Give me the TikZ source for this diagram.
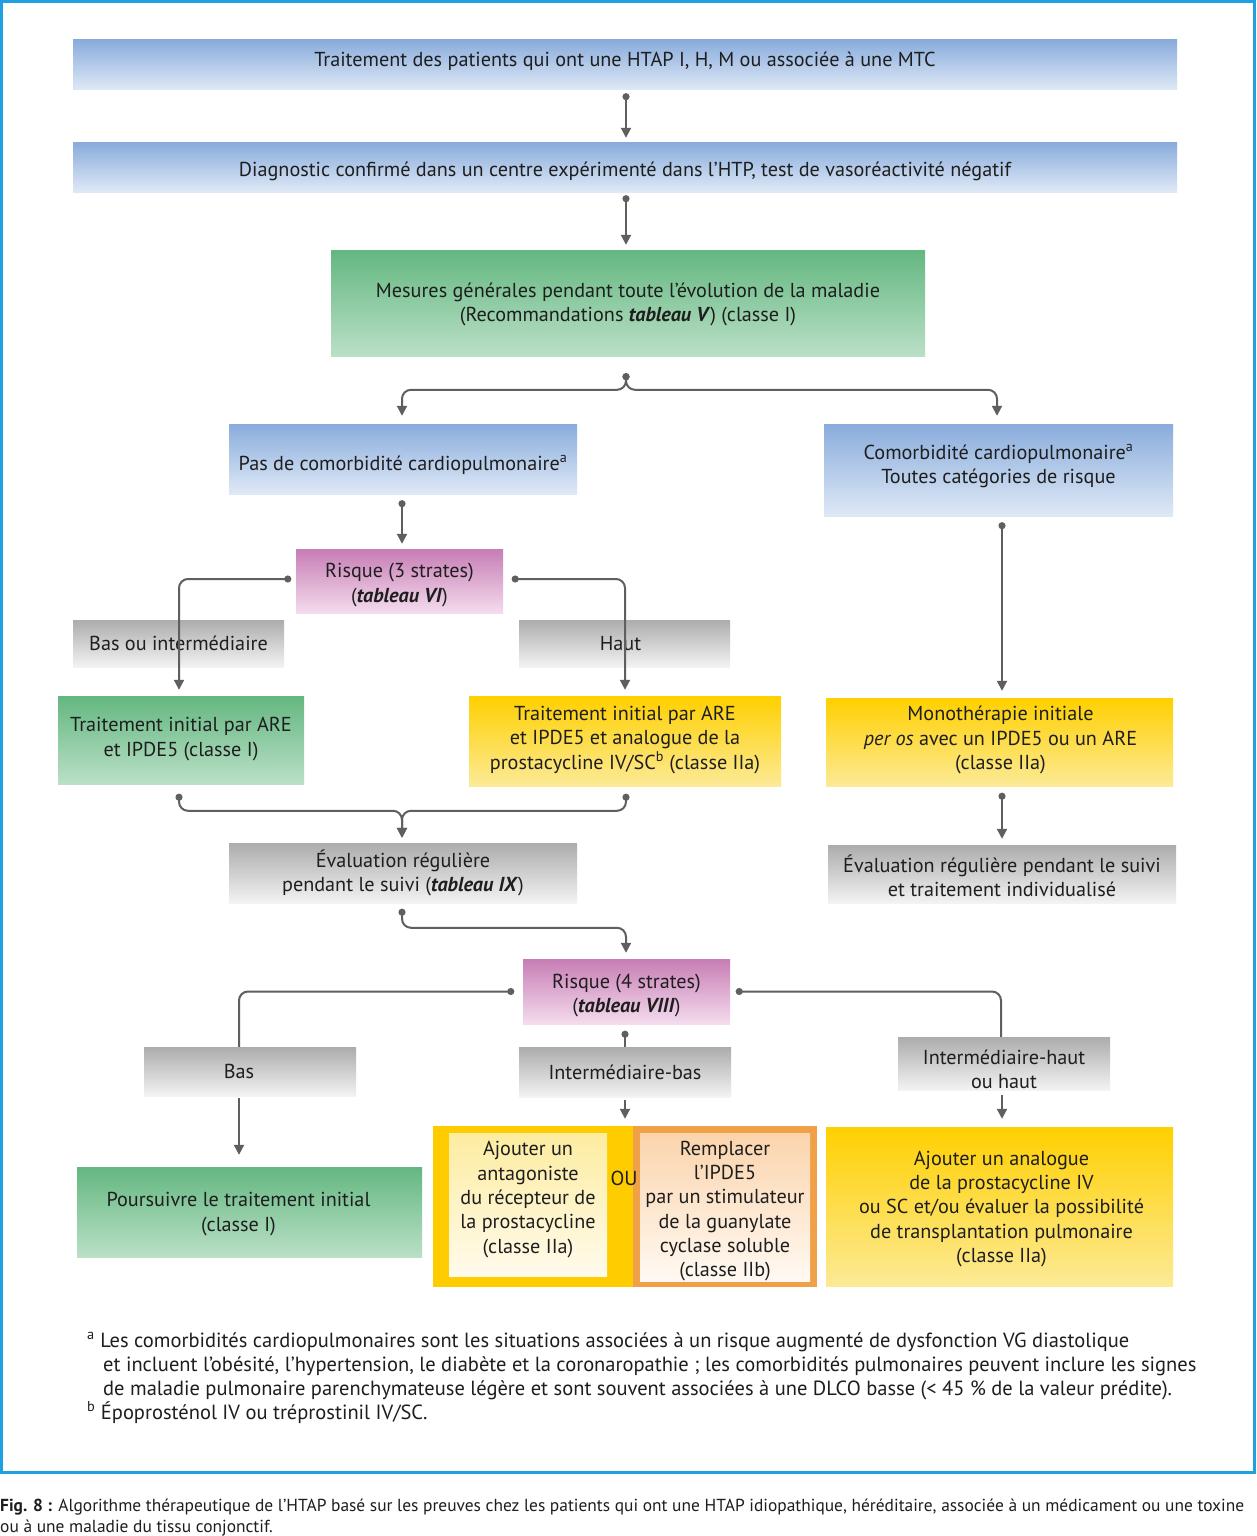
\documentclass[tikz,border=0pt]{standalone}
\usepackage{fontspec}
\setmainfont{PT Sans}
\usetikzlibrary{arrows.meta,calc}
\definecolor{frameC}{RGB}{30,160,225}
\definecolor{lineC}{RGB}{95,95,95}
\definecolor{txtC}{RGB}{30,30,30}
\definecolor{blueT}{RGB}{137,172,220}
\definecolor{blueB}{RGB}{223,233,246}
\definecolor{greenT}{RGB}{100,183,128}
\definecolor{greenB}{RGB}{186,224,199}
\definecolor{pinkT}{RGB}{199,125,181}
\definecolor{pinkB}{RGB}{244,220,237}
\definecolor{grayT}{RGB}{172,172,172}
\definecolor{grayB}{RGB}{243,243,243}
\definecolor{yelT}{RGB}{255,208,0}
\definecolor{yelB}{RGB}{252,234,150}
\definecolor{gold}{RGB}{255,204,0}
\definecolor{paleT}{RGB}{253,236,160}
\definecolor{paleB}{RGB}{255,251,236}
\definecolor{orangeC}{RGB}{240,160,70}
\definecolor{peachT}{RGB}{251,212,172}
\definecolor{peachB}{RGB}{255,249,242}
\newcommand{\bodyfont}{\fontsize{20.2}{24.3}\selectfont}
\newcommand{\footfont}{\fontsize{20.5}{24.3}\selectfont}
\newcommand{\capfont}{\fontsize{17.4}{21}\selectfont}
\newcommand{\bi}[1]{\textbf{\textit{#1}}}
\begin{document}
\begin{tikzpicture}[x=1pt,y=-1pt,
  box/.style={rectangle, inner sep=0pt},
  lbl/.style={inner sep=0pt, align=center, font=\bodyfont, text=txtC},
  bluebox/.style={box, top color=blueT, bottom color=blueB},
  greenbox/.style={box, top color=greenT, bottom color=greenB},
  pinkbox/.style={box, top color=pinkT, bottom color=pinkB},
  graybox/.style={box, top color=grayT, bottom color=grayB},
  yelbox/.style={box, top color=yelT, bottom color=yelB},
  palebox/.style={box, top color=paleT, bottom color=paleB},
  peachbox/.style={box, top color=peachT, bottom color=peachB},
  conn/.style={draw=lineC, line width=2pt, rounded corners=9pt,
    {Circle[length=7pt]}-{Triangle[length=10pt,width=10pt]}},
  dotline/.style={draw=lineC, line width=2pt, rounded corners=9pt,
    {Circle[length=7pt]}-},
  arr/.style={draw=lineC, line width=2pt, -{Triangle[length=10pt,width=10pt]}},
  foot/.style={anchor=base west, inner sep=0pt, font=\footfont, text=txtC},
  capt/.style={anchor=base west, inner sep=0pt, font=\capfont, text=txtC}]
\useasboundingbox (0,0) rectangle (1256,1536);
\fill[white] (0,0) rectangle (1256,1536);
\draw[frameC, line width=3pt] (1.5,1.5) rectangle (1254.5,1472);

% boxes
\node[bluebox, minimum width=1104pt, minimum height=50pt] (t1) at (625,65) {};
\node[lbl] (t1t) at ($(t1)+(0,-4)$)
  {Traitement des patients qui ont une HTAP I, H, M ou associée à une MTC};
\node[bluebox, minimum width=1104pt, minimum height=49pt] (t2) at (625,167.5) {};
\node[lbl] (t2t) at ($(t2)+(0,4)$)
  {Diagnostic confirmé dans un centre expérimenté dans l’HTP, test de vasoréactivité négatif};
\node[greenbox, minimum width=594pt, minimum height=106pt] (g3) at (628,303) {};
\node[lbl] (g3t) at ($(g3)+(0,1.5)$)
  {Mesures générales pendant toute l’évolution de la maladie\\(Recommandations \bi{tableau V}) (classe I)};
\node[bluebox, minimum width=348pt, minimum height=70pt] (pas) at (403,459) {};
\node[lbl] (past) at ($(pas)+(0,6)$)
  {Pas de comorbidité cardiopulmonaire\textsuperscript{a}};
\node[bluebox, minimum width=349pt, minimum height=92pt] (com) at (998.5,470) {};
\node[lbl] (comt) at ($(com)+(0,-4)$)
  {Comorbidité cardiopulmonaire\textsuperscript{a}\\Toutes catégories de risque};
\node[pinkbox, minimum width=207pt, minimum height=64pt] (r3) at (399.5,581) {};
\node[lbl] (r3t) at ($(r3)+(0,4)$)
  {Risque (3 strates)\\(\bi{tableau VI})};
\node[graybox, minimum width=211pt, minimum height=47pt] (bi) at (178.5,643.5) {};
\node[lbl] (bit) at (bi) {Bas ou intermédiaire};
\node[graybox, minimum width=211pt, minimum height=47pt] (haut) at (624.5,643.5) {};
\node[lbl] (hautt) at ($(haut)+(-4,0)$) {Haut};
\node[greenbox, minimum width=246pt, minimum height=88pt] (gi) at (181,740) {};
\node[lbl] (git) at ($(gi)+(0,-1)$)
  {Traitement initial par ARE\\et IPDE5 (classe I)};
\node[yelbox, minimum width=312pt, minimum height=90pt] (yi) at (625,741) {};
\node[lbl] (yit) at ($(yi)+(0,-1)$)
  {Traitement initial par ARE\\et IPDE5 et analogue de la\\prostacycline IV/SC\textsuperscript{b} (classe IIa)};
\node[yelbox, minimum width=347pt, minimum height=88pt] (mono) at (999.5,742) {};
\node[lbl] (monot) at ($(mono)+(1,-2)$)
  {Monothérapie initiale\\\textit{per os} avec un IPDE5 ou un ARE\\(classe IIa)};
\node[graybox, minimum width=348pt, minimum height=60pt] (ev1) at (403,873) {};
\node[lbl] (ev1t) at (ev1)
  {Évaluation régulière\\pendant le suivi (\bi{tableau IX})};
\node[graybox, minimum width=348pt, minimum height=58pt] (ev2) at (1002,874) {};
\node[lbl] (ev2t) at ($(ev2)+(0,1.5)$)
  {Évaluation régulière pendant le suivi\\et traitement individualisé};
\node[pinkbox, minimum width=207pt, minimum height=65pt] (r4) at (626.5,991.5) {};
\node[lbl] (r4t) at ($(r4)+(0,4)$)
  {Risque (4 strates)\\(\bi{tableau VIII})};
\node[graybox, minimum width=212pt, minimum height=49pt] (bas) at (250,1071.5) {};
\node[lbl] (bast) at ($(bas)+(-11,0)$) {Bas};
\node[graybox, minimum width=212pt, minimum height=50pt] (ib) at (625,1072) {};
\node[lbl] (ibt) at (ib) {Intermédiaire-bas};
\node[graybox, minimum width=212pt, minimum height=53pt] (ih) at (1004,1063.5) {};
\node[lbl] (iht) at ($(ih)+(0,6)$)
  {Intermédiaire-haut\\ou haut};
\node[greenbox, minimum width=345pt, minimum height=90pt] (pours) at (249.5,1212) {};
\node[lbl] (pourst) at ($(pours)+(-11,2)$)
  {Poursuivre le traitement initial\\(classe I)};
% OU composite
\node[box, fill=gold, minimum width=200pt, minimum height=161pt] (ouY) at (533,1206.5) {};
\node[box, fill=orangeC, minimum width=184pt, minimum height=161pt] (ouO) at (725,1206.5) {};
\node[palebox, minimum width=158pt, minimum height=143pt] (ajA) at (528,1204.5) {};
\node[lbl] (ajAt) at ($(ajA)+(0,-5)$)
  {Ajouter un\\antagoniste\\du récepteur de\\la prostacycline\\(classe IIa)};
\node[peachbox, minimum width=170pt, minimum height=148pt] (remp) at (725,1207) {};
\node[lbl] (rempt) at ($(remp)+(0,4)$)
  {Remplacer\\l’IPDE5\\par un stimulateur\\de la guanylate\\cyclase soluble\\(classe IIb)};
\node[lbl] (ou) at (624,1178) {OU};
\node[yelbox, minimum width=347pt, minimum height=159pt] (ajout) at (999.5,1206.5) {};
\node[lbl] (ajoutt) at ($(ajout)+(2,2.5)$)
  {Ajouter un analogue\\de la prostacycline IV\\ou SC et/ou évaluer la possibilité\\de transplantation pulmonaire\\(classe IIa)};

% connectors
\draw[conn] ($(t1.south)+(1,3)$) -- ($(t1.south |- t2.north)+(1,-5)$);
\draw[conn] ($(t2.south)+(1,3)$) -- ($(t2.south |- g3.north)+(1,-5)$);
\draw[conn] ($(g3.south)+(-2,17)$) |- ($(pas.north)+(-1,-34)$) -- ($(pas.north)+(-1,-8)$);
\draw[conn] ($(g3.south)+(-2,17)$) |- ($(com.north)+(-1.5,-34)$) -- ($(com.north)+(-1.5,-8)$);
\draw[conn] ($(pas.south)+(-1,6)$) -- ($(pas.south |- r3.north)+(-1,-5)$);
\draw[conn] ($(r3.west)+(-4.5,-2)$) -| ($(gi.north)+(-2,-6)$);
\draw[conn] ($(r3.east)+(8.5,-2)$) -| ($(yi.north)+(0,-6)$);
\draw[conn] ($(com.south)+(3.5,6)$) -- ($(com.south |- mono.north)+(3.5,-7)$);
\draw[conn] ($(gi.south)+(-2,9.5)$) |- ($(ev1.north)+(-1,-32)$) -- ($(ev1.north)+(-1,-5)$);
\draw[conn] ($(yi.south)+(1,7.5)$) |- ($(ev1.north)+(-1,-32)$) -- ($(ev1.north)+(-1,-5)$);
\draw[conn] ($(mono.south)+(2.5,6.5)$) -- ($(mono.south |- ev2.north)+(2.5,-6)$);
\draw[conn] ($(ev1.south)+(-1,5.5)$) |- ($(r4.north)+(-0.5,-31)$) -- ($(r4.north)+(-0.5,-6)$);
\draw[dotline] ($(r4.west)+(-8.5,0)$) -| ($(bas.north)+(-11,0)$);
\draw[arr] ($(bas.south)+(-11,2)$) -- ($(bas.south |- pours.north)+(-11,-12)$);
\draw[dotline] ($(r4.east)+(5.5,0)$) -| ($(ih.north)+(-3,0)$);
\draw[dotline] ($(r4.south)+(-1.5,6.5)$) -- ($(r4.south |- ib.north)+(-1.5,0)$);
\draw[arr] ($(ib.south)+(0,3)$) -- ($(ib.south |- ouY.north)+(0,-7)$);
\draw[arr] ($(ih.south)+(-2,5)$) -- ($(ih.south |- ajout.north)+(-2,-8)$);

% footnotes
\node[foot] (fn1) at (87,1347) {\textsuperscript{a} Les comorbidités cardiopulmonaires sont les situations associées à un risque augmenté de dysfonction VG diastolique};
\node[foot] (fn2) at (103,1371) {et incluent l’obésité, l’hypertension, le diabète et la coronaropathie ; les comorbidités pulmonaires peuvent inclure les signes};
\node[foot] (fn3) at (103,1395) {de maladie pulmonaire parenchymateuse légère et sont souvent associées à une DLCO basse (< 45 \% de la valeur prédite).};
\node[foot] (fn4) at (87,1419) {\textsuperscript{b} Époprosténol IV ou tréprostinil IV/SC.};

% caption
\node[capt] (cap1) at (0,1511) {\textbf{Fig. 8 :} Algorithme thérapeutique de l’HTAP basé sur les preuves chez les patients qui ont une HTAP idiopathique, héréditaire, associée à un médicament ou une toxine};
\node[capt] (cap2) at (0,1532) {ou à une maladie du tissu conjonctif.};
\end{tikzpicture}
\end{document}
